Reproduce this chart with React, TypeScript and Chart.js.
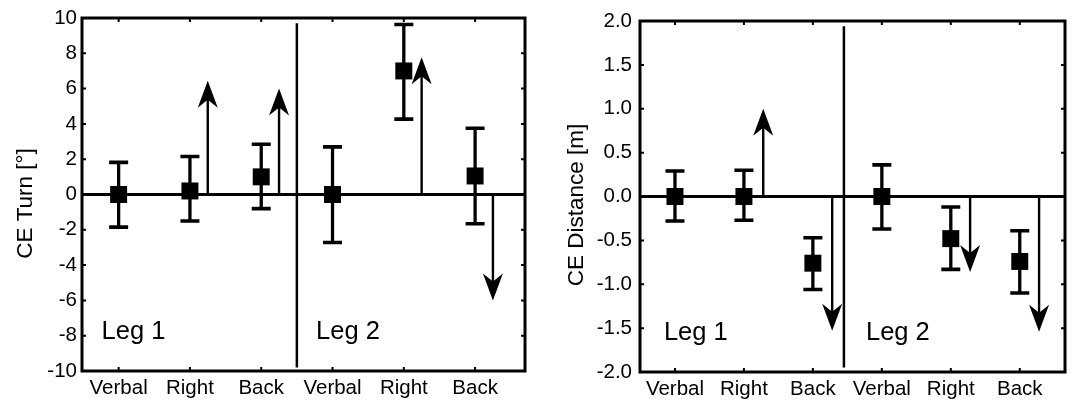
import React, { useEffect, useRef } from 'react';
import { Chart, registerables } from 'chart.js';

Chart.register(...registerables);

const FONT = 'Arial, "Liberation Sans", Helvetica, sans-serif';

// Conditions, in plotting order (Leg 1 then Leg 2)
const categories = ['Verbal', 'Right', 'Back', 'Verbal', 'Right', 'Back'];
const legLabels = ['Leg 1', 'Leg 2'];

// Constant error of turn (degrees): mean with upper / lower error bounds
const turnMean = [0, 0.2, 1.0, 0, 7.0, 1.05];
const turnHigh = [1.82, 2.15, 2.85, 2.7, 9.63, 3.75];
const turnLow = [-1.85, -1.5, -0.8, -2.72, 4.27, -1.66];
// Predicted bias shown as arrows (null = no arrow)
const turnArrow = [null, 6.45, 6.0, null, 7.77, -6.0];
const turnTicks = [-10, -8, -6, -4, -2, 0, 2, 4, 6, 8, 10];

// Constant error of distance (metres)
const distMean = [0, 0, -0.76, 0, -0.48, -0.74];
const distHigh = [0.29, 0.3, -0.47, 0.36, -0.12, -0.39];
const distLow = [-0.28, -0.27, -1.06, -0.37, -0.83, -1.1];
const distArrow = [null, 1.0, -1.53, null, -0.86, -1.54];
const distTicks = [-2.0, -1.5, -1.0, -0.5, 0.0, 0.5, 1.0, 1.5, 2.0];

type Panel = {
  title: string;
  mean: number[];
  high: number[];
  low: number[];
  arrows: (number | null)[];
  ticks: number[];
  decimals: number;
  xMin: number;
  xMax: number;
  sepX: number;
  sepSpan: [number, number];
  legX: [number, number];
  legY: number;
  arrowOffset: number;
  canvasW: number;
  yWidth: number;
  xHeight: number;
  padTop: number;
  padRight: number;
  tickPad: number;
  titleX: number;
  titleY: number;
};

const turnPanel: Panel = {
  title: 'CE Turn [°]',
  mean: turnMean,
  high: turnHigh,
  low: turnLow,
  arrows: turnArrow,
  ticks: turnTicks,
  decimals: 0,
  xMin: 0.486,
  xMax: 6.7,
  sepX: 3.5,
  sepSpan: [-9.8, 9.7],
  legX: [0.76, 3.77],
  legY: -8.2,
  arrowOffset: 0.25,
  canvasW: 537,
  yWidth: 82,
  xHeight: 32,
  padTop: 18,
  padRight: 10,
  tickPad: 5,
  titleX: 31.5,
  titleY: 203.5,
};

const distPanel: Panel = {
  title: 'CE Distance [m]',
  mean: distMean,
  high: distHigh,
  low: distLow,
  arrows: distArrow,
  ticks: distTicks,
  decimals: 1,
  xMin: 0.493,
  xMax: 6.656,
  sepX: 3.45,
  sepSpan: [-1.95, 1.94],
  legX: [0.84, 3.77],
  legY: -1.63,
  arrowOffset: 0.28,
  canvasW: 540,
  yWidth: 103,
  xHeight: 31,
  padTop: 21,
  padRight: 2,
  tickPad: 8,
  titleX: 46.3,
  titleY: 205,
};

function decorPlugin(p: Panel) {
  return {
    id: 'panelDecor',
    beforeDatasetsDraw(chart: any) {
      const { ctx, chartArea: a } = chart;
      const xs = chart.scales.x;
      const ys = chart.scales.y;
      ctx.save();
      ctx.strokeStyle = '#000';
      ctx.fillStyle = '#000';
      ctx.lineCap = 'butt';

      // zero line
      const y0 = ys.getPixelForValue(0);
      ctx.lineWidth = 3;
      ctx.beginPath();
      ctx.moveTo(a.left, y0);
      ctx.lineTo(a.right, y0);
      ctx.stroke();

      // Leg 1 / Leg 2 separator
      const sx = xs.getPixelForValue(p.sepX);
      ctx.lineWidth = 2.5;
      ctx.beginPath();
      ctx.moveTo(sx, ys.getPixelForValue(p.sepSpan[1]));
      ctx.lineTo(sx, ys.getPixelForValue(p.sepSpan[0]));
      ctx.stroke();

      // error bars
      p.mean.forEach((_, i) => {
        const x = xs.getPixelForValue(i + 1);
        const yh = ys.getPixelForValue(p.high[i]);
        const yl = ys.getPixelForValue(p.low[i]);
        ctx.lineWidth = 3.3;
        ctx.beginPath();
        ctx.moveTo(x, yh);
        ctx.lineTo(x, yl);
        ctx.stroke();
        ctx.lineWidth = 3.6;
        ctx.beginPath();
        ctx.moveTo(x - 9.5, yh);
        ctx.lineTo(x + 9.5, yh);
        ctx.moveTo(x - 9.5, yl);
        ctx.lineTo(x + 9.5, yl);
        ctx.stroke();
      });

      // arrows from zero to the predicted value
      p.arrows.forEach((v, i) => {
        if (v === null) return;
        const x = xs.getPixelForValue(i + 1 + p.arrowOffset);
        const yt = ys.getPixelForValue(v);
        const dir = yt < y0 ? -1 : 1;
        ctx.lineWidth = 2.4;
        ctx.beginPath();
        ctx.moveTo(x, y0);
        ctx.lineTo(x, yt - dir * 16);
        ctx.stroke();
        ctx.beginPath();
        ctx.moveTo(x, yt);
        ctx.lineTo(x + 10, yt - dir * 27);
        ctx.lineTo(x, yt - dir * 19);
        ctx.lineTo(x - 10, yt - dir * 27);
        ctx.closePath();
        ctx.fill();
      });
      ctx.restore();
    },
    afterDraw(chart: any) {
      const { ctx, chartArea: a } = chart;
      const xs = chart.scales.x;
      const ys = chart.scales.y;
      ctx.save();
      ctx.strokeStyle = '#000';
      ctx.fillStyle = '#000';

      // frame
      ctx.lineWidth = 3;
      ctx.strokeRect(a.left, a.top, a.right - a.left, a.bottom - a.top);

      // small inward tick marks
      ctx.lineWidth = 2;
      ctx.beginPath();
      categories.forEach((_, i) => {
        const x = xs.getPixelForValue(i + 1);
        ctx.moveTo(x, a.top);
        ctx.lineTo(x, a.top + 4);
        ctx.moveTo(x, a.bottom);
        ctx.lineTo(x, a.bottom - 4);
      });
      p.ticks.forEach((t) => {
        const y = ys.getPixelForValue(t);
        ctx.moveTo(a.left, y);
        ctx.lineTo(a.left + 4, y);
        ctx.moveTo(a.right, y);
        ctx.lineTo(a.right - 4, y);
      });
      ctx.stroke();

      // Leg labels
      ctx.font = `25.5px ${FONT}`;
      ctx.textAlign = 'left';
      ctx.textBaseline = 'alphabetic';
      legLabels.forEach((lab, k) => {
        ctx.fillText(lab, xs.getPixelForValue(p.legX[k]), ys.getPixelForValue(p.legY));
      });

      // y axis title
      ctx.font = `22.5px ${FONT}`;
      ctx.textAlign = 'center';
      ctx.translate(p.titleX, p.titleY);
      ctx.rotate(-Math.PI / 2);
      ctx.fillText(p.title, 0, 0);
      ctx.restore();
    },
  };
}

function PanelChart({ p, left }: { p: Panel; left: number }) {
  const ref = useRef<HTMLCanvasElement | null>(null);

  useEffect(() => {
    if (!ref.current) return;
    const chart = new Chart(ref.current, {
      type: 'scatter',
      data: {
        datasets: [
          {
            data: p.mean.map((m, i) => ({ x: i + 1, y: m })),
            pointStyle: 'rect',
            pointRadius: 12,
            backgroundColor: '#000',
            borderWidth: 0,
            showLine: false,
          },
        ],
      },
      options: {
        animation: false,
        responsive: false,
        devicePixelRatio: 1,
        events: [],
        layout: { padding: { top: p.padTop, right: p.padRight, left: 0, bottom: 0 } },
        plugins: { legend: { display: false }, tooltip: { enabled: false } },
        scales: {
          x: {
            type: 'linear',
            min: p.xMin,
            max: p.xMax,
            grid: { display: false, drawTicks: false },
            border: { display: false },
            afterBuildTicks: (s: any) => {
              s.ticks = categories.map((_, i) => ({ value: i + 1 }));
            },
            afterFit: (s: any) => {
              s.height = p.xHeight;
            },
            ticks: {
              autoSkip: false,
              maxRotation: 0,
              padding: 5,
              color: '#000',
              font: { size: 20.5, family: FONT },
              callback: (v: any) => categories[Math.round(Number(v)) - 1] ?? '',
            },
          },
          y: {
            type: 'linear',
            min: p.ticks[0],
            max: p.ticks[p.ticks.length - 1],
            grid: { display: false, drawTicks: false },
            border: { display: false },
            afterBuildTicks: (s: any) => {
              s.ticks = p.ticks.map((t) => ({ value: t }));
            },
            afterFit: (s: any) => {
              s.width = p.yWidth;
            },
            ticks: {
              padding: p.tickPad,
              color: '#000',
              font: { size: 20.5, family: FONT },
              callback: (v: any) => Number(v).toFixed(p.decimals),
            },
          },
        },
      },
      plugins: [decorPlugin(p)],
    } as any);
    return () => chart.destroy();
  }, [p]);

  return (
    <canvas
      ref={ref}
      width={p.canvasW}
      height={403}
      style={{ position: 'absolute', left, top: 0, width: p.canvasW, height: 403 }}
    />
  );
}

export default function App() {
  return (
    <div
      style={{
        position: 'absolute',
        left: 0,
        top: 0,
        width: 1077,
        height: 403,
        background: '#fff',
        overflow: 'hidden',
      }}
    >
      <PanelChart p={turnPanel} left={0} />
      <PanelChart p={distPanel} left={537} />
    </div>
  );
}
